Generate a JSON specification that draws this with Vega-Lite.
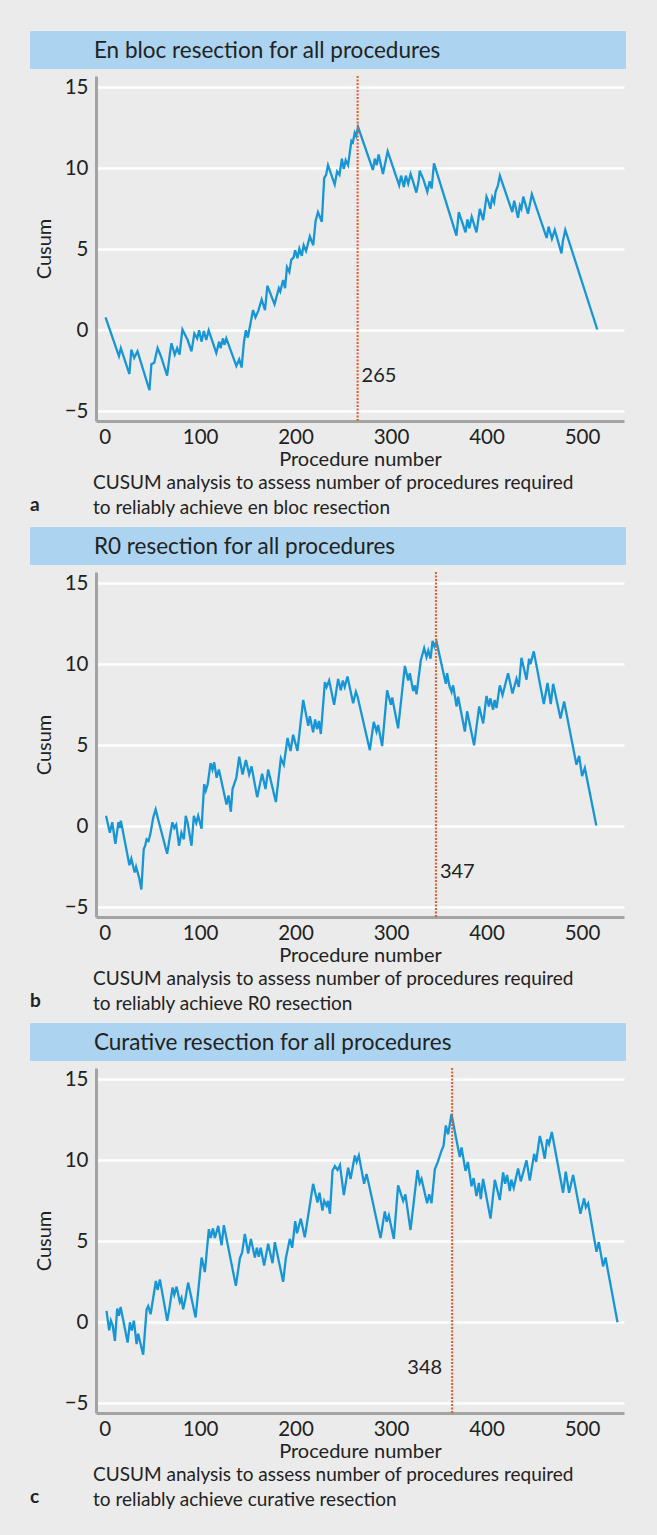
{
  "$schema": "https://vega.github.io/schema/vega-lite/v6.json",
  "background": "#ebebeb",
  "padding": {"left": 30, "top": 30, "right": 31, "bottom": 32},
  "spacing": 8,
  "config": {
    "font": "Lato",
    "view": {"stroke": null},
    "axis": {"domainColor": "#a3a3a3", "domainWidth": 3, "ticks": false, "labelFontSize": 20.5, "labelColor": "#222222", "titleFontSize": 20, "titleFontWeight": "normal", "titleColor": "#222222", "gridColor": "#ffffff", "gridWidth": 2.5, "gridOpacity": 1, "labelFlush": false, "labelOverlap": false},
    "title": {"fontWeight": "normal", "color": "#222222", "fontSize": 19}
  },
  "datasets": {
    "a": [
      {"n":1,"cusum":0.8},{"n":15,"cusum":-1.6},{"n":17,"cusum":-1.1},{"n":26,"cusum":-2.7},{"n":28,"cusum":-1.2},{"n":31,"cusum":-1.7},{"n":34.5,"cusum":-1.3},{"n":47,"cusum":-3.7},{"n":49,"cusum":-2.1},{"n":52,"cusum":-2.0},{"n":55.5,"cusum":-1.1},{"n":59,"cusum":-1.6},{"n":65.5,"cusum":-2.8},{"n":68.5,"cusum":-1.4},{"n":70,"cusum":-0.8},{"n":73.5,"cusum":-1.5},{"n":76,"cusum":-1.1},{"n":78.5,"cusum":-1.5},{"n":81.5,"cusum":0.05},{"n":87,"cusum":-0.6},{"n":91,"cusum":-1.3},{"n":94,"cusum":-0.2},{"n":97,"cusum":-0.5},{"n":99,"cusum":0},{"n":101.5,"cusum":-0.7},{"n":104,"cusum":-0.05},{"n":106.5,"cusum":-0.6},{"n":109,"cusum":0},{"n":117,"cusum":-1.4},{"n":120,"cusum":-0.7},{"n":121.5,"cusum":-1.1},{"n":124,"cusum":-0.5},{"n":125.5,"cusum":-0.9},{"n":127.5,"cusum":-0.5},{"n":138,"cusum":-2.2},{"n":141,"cusum":-1.8},{"n":143.5,"cusum":-2.3},{"n":146,"cusum":-0.7},{"n":148,"cusum":0},{"n":150,"cusum":-0.45},{"n":155.5,"cusum":1.25},{"n":158,"cusum":0.8},{"n":161,"cusum":1.2},{"n":164.5,"cusum":1.9},{"n":168,"cusum":1.25},{"n":170.5,"cusum":2.75},{"n":178,"cusum":1.6},{"n":182.5,"cusum":2.6},{"n":184,"cusum":2.4},{"n":187,"cusum":3.1},{"n":189,"cusum":2.6},{"n":191,"cusum":3.9},{"n":193.5,"cusum":3.6},{"n":195.5,"cusum":4.35},{"n":198,"cusum":4.5},{"n":199.5,"cusum":4.95},{"n":202,"cusum":4.45},{"n":204,"cusum":5.05},{"n":206.5,"cusum":4.6},{"n":208.5,"cusum":5.25},{"n":211,"cusum":4.9},{"n":215,"cusum":5.8},{"n":218.5,"cusum":5.25},{"n":221,"cusum":6.75},{"n":223.5,"cusum":7.3},{"n":227.5,"cusum":6.7},{"n":230,"cusum":9.4},{"n":232,"cusum":9.6},{"n":234,"cusum":10.2},{"n":241,"cusum":9.0},{"n":243.5,"cusum":9.8},{"n":246,"cusum":9.6},{"n":248.5,"cusum":10.6},{"n":250.5,"cusum":9.95},{"n":252.5,"cusum":10.5},{"n":255,"cusum":10.2},{"n":258.5,"cusum":11.7},{"n":260,"cusum":11.6},{"n":262,"cusum":12.2},{"n":263.5,"cusum":12.0},{"n":265.5,"cusum":12.55},{"n":281,"cusum":9.9},{"n":283,"cusum":10.6},{"n":285,"cusum":10.2},{"n":287,"cusum":10.85},{"n":291.5,"cusum":9.65},{"n":296.5,"cusum":11.05},{"n":308.5,"cusum":8.95},{"n":310.5,"cusum":9.55},{"n":313.5,"cusum":8.85},{"n":315.5,"cusum":9.55},{"n":318,"cusum":9.05},{"n":320.5,"cusum":9.65},{"n":323,"cusum":9.2},{"n":326.5,"cusum":8.5},{"n":329,"cusum":9.25},{"n":330,"cusum":9.85},{"n":334,"cusum":9.3},{"n":338,"cusum":8.55},{"n":340.5,"cusum":9.2},{"n":342.5,"cusum":8.75},{"n":345,"cusum":10.3},{"n":368.5,"cusum":5.85},{"n":371,"cusum":7.3},{"n":378,"cusum":6.05},{"n":380,"cusum":6.85},{"n":382,"cusum":6.3},{"n":384.5,"cusum":7.0},{"n":389.5,"cusum":6.05},{"n":393,"cusum":7.5},{"n":396.5,"cusum":6.8},{"n":400,"cusum":8.25},{"n":402,"cusum":7.95},{"n":404,"cusum":7.5},{"n":406,"cusum":8.2},{"n":408,"cusum":7.9},{"n":409.5,"cusum":8.55},{"n":412,"cusum":8.95},{"n":414,"cusum":9.55},{"n":427,"cusum":7.3},{"n":429,"cusum":8.0},{"n":433,"cusum":6.95},{"n":435,"cusum":7.7},{"n":436.5,"cusum":7.5},{"n":438.5,"cusum":8.25},{"n":443.5,"cusum":7.2},{"n":447.5,"cusum":8.4},{"n":463,"cusum":5.7},{"n":465,"cusum":6.4},{"n":468.5,"cusum":5.65},{"n":471.5,"cusum":6.2},{"n":478.5,"cusum":4.75},{"n":480,"cusum":5.5},{"n":482.5,"cusum":6.2},{"n":516,"cusum":0.05}
    ],
    "b": [
      {"n":1.5,"cusum":0.65},{"n":5.5,"cusum":-0.4},{"n":8,"cusum":0.25},{"n":11.3,"cusum":-1.08},{"n":14.5,"cusum":0.25},{"n":16,"cusum":-0.1},{"n":17,"cusum":0.35},{"n":26,"cusum":-2.4},{"n":28,"cusum":-2.0},{"n":31.5,"cusum":-2.85},{"n":33,"cusum":-2.5},{"n":36.5,"cusum":-3.25},{"n":38.5,"cusum":-3.9},{"n":41,"cusum":-1.4},{"n":42.5,"cusum":-1.2},{"n":44,"cusum":-0.8},{"n":46,"cusum":-0.9},{"n":48,"cusum":-0.45},{"n":51,"cusum":0.55},{"n":53.5,"cusum":1.05},{"n":56,"cusum":0.45},{"n":65.5,"cusum":-1.7},{"n":68.5,"cusum":-0.6},{"n":71,"cusum":0.25},{"n":73,"cusum":-0.1},{"n":75,"cusum":0.1},{"n":78,"cusum":-1.2},{"n":80.5,"cusum":-0.4},{"n":83,"cusum":-0.8},{"n":85,"cusum":0.65},{"n":87,"cusum":0.2},{"n":91,"cusum":-1.2},{"n":93.5,"cusum":0.65},{"n":96,"cusum":0.2},{"n":98,"cusum":0.65},{"n":101.5,"cusum":-0.15},{"n":104.3,"cusum":2.6},{"n":106,"cusum":2.2},{"n":108,"cusum":2.6},{"n":111,"cusum":3.9},{"n":113,"cusum":3.5},{"n":114.8,"cusum":3.95},{"n":117.3,"cusum":3.0},{"n":119.7,"cusum":3.5},{"n":127.7,"cusum":1.35},{"n":129.8,"cusum":1.9},{"n":132.2,"cusum":0.9},{"n":134,"cusum":2.3},{"n":138,"cusum":3.0},{"n":141,"cusum":4.3},{"n":144.5,"cusum":3.2},{"n":148,"cusum":4.1},{"n":151.4,"cusum":3.2},{"n":153.9,"cusum":3.7},{"n":159.8,"cusum":1.8},{"n":165,"cusum":3.25},{"n":168.5,"cusum":2.3},{"n":171.3,"cusum":3.5},{"n":179.4,"cusum":1.5},{"n":184.6,"cusum":4.2},{"n":187.7,"cusum":3.8},{"n":191.6,"cusum":5.45},{"n":194.7,"cusum":4.65},{"n":197.5,"cusum":5.65},{"n":202,"cusum":4.65},{"n":208,"cusum":7.8},{"n":213.3,"cusum":6.2},{"n":215,"cusum":6.8},{"n":218.4,"cusum":5.8},{"n":220.5,"cusum":6.6},{"n":222.5,"cusum":6.0},{"n":224.5,"cusum":6.5},{"n":226.5,"cusum":5.7},{"n":230.7,"cusum":8.9},{"n":232.5,"cusum":8.6},{"n":235.2,"cusum":9.0},{"n":240.4,"cusum":7.5},{"n":244.6,"cusum":9.1},{"n":247.4,"cusum":8.4},{"n":249.5,"cusum":9.0},{"n":251.5,"cusum":8.6},{"n":254.4,"cusum":9.25},{"n":260.3,"cusum":7.6},{"n":263.2,"cusum":8.3},{"n":265,"cusum":8.0},{"n":277.8,"cusum":4.7},{"n":281.9,"cusum":6.45},{"n":284.8,"cusum":5.85},{"n":286.5,"cusum":6.25},{"n":290.7,"cusum":4.95},{"n":295.9,"cusum":8.4},{"n":299.8,"cusum":7.5},{"n":301.2,"cusum":7.95},{"n":307.4,"cusum":6.05},{"n":314.5,"cusum":9.9},{"n":318,"cusum":9.0},{"n":319.7,"cusum":9.45},{"n":323.2,"cusum":8.35},{"n":325,"cusum":8.7},{"n":326.7,"cusum":8.15},{"n":331.2,"cusum":10.25},{"n":334.7,"cusum":11.0},{"n":337.2,"cusum":10.45},{"n":339,"cusum":10.85},{"n":341.4,"cusum":10.35},{"n":343.5,"cusum":11.45},{"n":345.5,"cusum":11.1},{"n":347.6,"cusum":11.4},{"n":357.4,"cusum":8.8},{"n":358.7,"cusum":9.45},{"n":361,"cusum":8.7},{"n":363.4,"cusum":8.3},{"n":365,"cusum":8.7},{"n":368.6,"cusum":7.4},{"n":370.3,"cusum":8.0},{"n":377.3,"cusum":5.85},{"n":379.7,"cusum":7.1},{"n":387,"cusum":5.0},{"n":392.3,"cusum":7.4},{"n":396.5,"cusum":6.35},{"n":400,"cusum":8.05},{"n":402.5,"cusum":7.4},{"n":404,"cusum":7.9},{"n":406.9,"cusum":7.2},{"n":408.5,"cusum":7.8},{"n":410.5,"cusum":7.3},{"n":413.9,"cusum":8.7},{"n":416.8,"cusum":8.1},{"n":422.6,"cusum":9.45},{"n":427.2,"cusum":8.2},{"n":431.4,"cusum":9.1},{"n":433.8,"cusum":8.6},{"n":436.6,"cusum":10.4},{"n":441.9,"cusum":9.05},{"n":444.6,"cusum":10.35},{"n":446,"cusum":10.0},{"n":449.5,"cusum":10.8},{"n":460,"cusum":7.55},{"n":463.9,"cusum":8.85},{"n":467.3,"cusum":7.55},{"n":469.8,"cusum":8.8},{"n":477.5,"cusum":6.65},{"n":481.3,"cusum":7.7},{"n":494.2,"cusum":3.8},{"n":497,"cusum":4.35},{"n":500.1,"cusum":3.1},{"n":503,"cusum":3.6},{"n":515,"cusum":0.05}
    ],
    "c": [
      {"n":2,"cusum":0.7},{"n":4.8,"cusum":-0.5},{"n":6.6,"cusum":0.1},{"n":8.5,"cusum":-0.2},{"n":10.8,"cusum":-1.15},{"n":13.2,"cusum":0.85},{"n":15,"cusum":0.4},{"n":16.8,"cusum":0.95},{"n":24.1,"cusum":-1.25},{"n":26.5,"cusum":0},{"n":28.5,"cusum":-0.5},{"n":30.7,"cusum":0.1},{"n":33.5,"cusum":-1.35},{"n":35.2,"cusum":-0.7},{"n":37.5,"cusum":-1.3},{"n":40.4,"cusum":-2.0},{"n":44,"cusum":0.8},{"n":45.7,"cusum":1.0},{"n":48.2,"cusum":0.5},{"n":53.7,"cusum":2.55},{"n":55.5,"cusum":2.0},{"n":57.9,"cusum":2.65},{"n":65.6,"cusum":0.1},{"n":67.7,"cusum":0.8},{"n":71.2,"cusum":2.15},{"n":73,"cusum":1.7},{"n":75.4,"cusum":2.2},{"n":78.8,"cusum":1.25},{"n":80.5,"cusum":1.5},{"n":82.3,"cusum":0.8},{"n":84.5,"cusum":1.4},{"n":87.5,"cusum":2.45},{"n":95.3,"cusum":0.3},{"n":101.6,"cusum":4.0},{"n":105,"cusum":3.1},{"n":109.2,"cusum":5.75},{"n":111,"cusum":5.2},{"n":113.5,"cusum":5.8},{"n":115.5,"cusum":5.2},{"n":119,"cusum":5.95},{"n":122.5,"cusum":4.75},{"n":124.9,"cusum":6.0},{"n":137.5,"cusum":2.25},{"n":141.7,"cusum":3.95},{"n":144,"cusum":4.3},{"n":146.9,"cusum":5.45},{"n":150.4,"cusum":4.25},{"n":153.2,"cusum":5.15},{"n":157.4,"cusum":4.0},{"n":159.5,"cusum":4.6},{"n":161.5,"cusum":4.05},{"n":163.5,"cusum":4.6},{"n":167.1,"cusum":3.5},{"n":171.3,"cusum":4.85},{"n":175.9,"cusum":3.65},{"n":178.3,"cusum":4.95},{"n":187,"cusum":2.5},{"n":189.8,"cusum":3.95},{"n":194,"cusum":5.15},{"n":196.5,"cusum":4.6},{"n":199.6,"cusum":6.25},{"n":201.5,"cusum":5.5},{"n":205.5,"cusum":6.4},{"n":209.7,"cusum":5.25},{"n":218.4,"cusum":8.55},{"n":223,"cusum":7.4},{"n":225,"cusum":8.0},{"n":228.2,"cusum":6.9},{"n":230,"cusum":7.5},{"n":232.5,"cusum":7.2},{"n":234,"cusum":7.5},{"n":236,"cusum":6.7},{"n":238.7,"cusum":9.35},{"n":241.2,"cusum":9.65},{"n":244,"cusum":9.4},{"n":246.5,"cusum":9.7},{"n":250.6,"cusum":7.85},{"n":255.1,"cusum":9.55},{"n":257.6,"cusum":8.85},{"n":262.1,"cusum":10.3},{"n":264,"cusum":9.9},{"n":266.3,"cusum":10.3},{"n":271.8,"cusum":8.55},{"n":274.3,"cusum":9.15},{"n":276.5,"cusum":8.6},{"n":289,"cusum":5.2},{"n":293.5,"cusum":6.85},{"n":295.5,"cusum":6.2},{"n":297.7,"cusum":6.6},{"n":302.9,"cusum":5.15},{"n":307.4,"cusum":8.45},{"n":312.7,"cusum":7.5},{"n":315,"cusum":7.9},{"n":320.4,"cusum":5.7},{"n":327.7,"cusum":9.4},{"n":330,"cusum":8.6},{"n":331.9,"cusum":8.85},{"n":337.8,"cusum":7.35},{"n":340,"cusum":7.9},{"n":342.4,"cusum":7.35},{"n":345.9,"cusum":9.45},{"n":349,"cusum":9.9},{"n":352.9,"cusum":10.6},{"n":355,"cusum":10.9},{"n":357.4,"cusum":12.15},{"n":359.8,"cusum":11.6},{"n":363.3,"cusum":12.85},{"n":372,"cusum":10.2},{"n":373.8,"cusum":10.8},{"n":378,"cusum":9.35},{"n":380.5,"cusum":9.9},{"n":384.3,"cusum":8.4},{"n":386.5,"cusum":8.9},{"n":389.5,"cusum":7.8},{"n":392,"cusum":8.6},{"n":394,"cusum":7.6},{"n":396.4,"cusum":8.85},{"n":404.2,"cusum":6.4},{"n":408.7,"cusum":8.8},{"n":413.9,"cusum":7.55},{"n":417.4,"cusum":9.25},{"n":419.5,"cusum":8.55},{"n":421.5,"cusum":9.1},{"n":424.4,"cusum":8.1},{"n":426,"cusum":8.8},{"n":428.5,"cusum":8.3},{"n":433.1,"cusum":9.5},{"n":435.9,"cusum":8.7},{"n":441.9,"cusum":10.0},{"n":445.3,"cusum":8.75},{"n":449.9,"cusum":10.4},{"n":452,"cusum":9.9},{"n":455.8,"cusum":11.5},{"n":458,"cusum":11.0},{"n":461,"cusum":10.1},{"n":463.5,"cusum":11.3},{"n":465.5,"cusum":11.0},{"n":468.4,"cusum":11.75},{"n":480.2,"cusum":8.0},{"n":483,"cusum":9.3},{"n":486.5,"cusum":8.0},{"n":490.7,"cusum":9.1},{"n":498.4,"cusum":6.7},{"n":502.2,"cusum":7.65},{"n":504,"cusum":7.1},{"n":506.4,"cusum":7.35},{"n":515.2,"cusum":4.35},{"n":517.6,"cusum":4.95},{"n":522.1,"cusum":3.45},{"n":524.6,"cusum":4.0},{"n":537.2,"cusum":0}
    ]
  },
  "vconcat": [
    {
      "title": {"text": "a", "orient": "bottom", "anchor": "start", "frame": "bounds", "offset": -22, "fontWeight": "bold", "fontSize": 19},
      "vconcat": [
        {
          "width": 528, "height": 345,
          "title": {"text": ["CUSUM analysis to assess number of procedures required", "to reliably achieve en bloc resection"], "orient": "bottom", "anchor": "start", "frame": "group", "dx": -3, "offset": 5, "lineHeight": 25},
          "layer": [
            {
              "data": {"values": [{"head": "En bloc resection for all procedures"}]},
              "layer": [
                {"mark": {"type": "rect", "color": "#acd4f0"}, "encoding": {"x": {"datum": -78.1, "type": "quantitative"}, "x2": {"datum": 546.1}, "y": {"datum": 18.48, "type": "quantitative"}, "y2": {"datum": 16.13}}},
                {"mark": {"type": "text", "align": "left", "baseline": "middle", "fontSize": 22.5, "color": "#222222"}, "encoding": {"x": {"datum": -11.2, "type": "quantitative"}, "y": {"datum": 17.27, "type": "quantitative"}, "text": {"field": "head"}}}
              ]
            },
            {
              "data": {"name": "a"},
              "mark": {"type": "line", "color": "#1796d7", "strokeWidth": 2.3},
              "encoding": {
                "x": {"field": "n", "type": "quantitative", "scale": {"domain": [-9, 544], "nice": false, "zero": false}, "axis": {"values": [0, 100, 200, 300, 400, 500], "grid": false, "title": "Procedure number", "labelPadding": 6, "titlePadding": 1.5}},
                "y": {"field": "cusum", "type": "quantitative", "scale": {"domain": [-5.6, 15.7], "nice": false, "zero": false}, "axis": {"values": [-5, 0, 5, 10, 15], "grid": true, "title": "Cusum", "labelPadding": 8, "titlePadding": 10}}
              }
            },
            {
              "data": {"values": [{"n": 265, "label": "265"}]},
              "layer": [
                {"mark": {"type": "rule", "color": "#e85a28", "strokeWidth": 2, "strokeDash": [2, 1.5]}, "encoding": {"x": {"field": "n", "type": "quantitative"}}},
                {"mark": {"type": "text", "align": "left", "dx": 4, "baseline": "middle", "fontSize": 20, "color": "#222222"}, "encoding": {"x": {"field": "n", "type": "quantitative"}, "y": {"datum": -2.8, "type": "quantitative"}, "text": {"field": "label"}}}
              ]
            }
          ]
        }
      ]
    },
    {
      "title": {"text": "b", "orient": "bottom", "anchor": "start", "frame": "bounds", "offset": -22, "fontWeight": "bold", "fontSize": 19},
      "vconcat": [
        {
          "width": 528, "height": 345,
          "title": {"text": ["CUSUM analysis to assess number of procedures required", "to reliably achieve R0 resection"], "orient": "bottom", "anchor": "start", "frame": "group", "dx": -3, "offset": 5, "lineHeight": 25},
          "layer": [
            {
              "data": {"values": [{"head": "R0 resection for all procedures"}]},
              "layer": [
                {"mark": {"type": "rect", "color": "#acd4f0"}, "encoding": {"x": {"datum": -78.1, "type": "quantitative"}, "x2": {"datum": 546.1}, "y": {"datum": 18.48, "type": "quantitative"}, "y2": {"datum": 16.13}}},
                {"mark": {"type": "text", "align": "left", "baseline": "middle", "fontSize": 22.5, "color": "#222222"}, "encoding": {"x": {"datum": -11.2, "type": "quantitative"}, "y": {"datum": 17.27, "type": "quantitative"}, "text": {"field": "head"}}}
              ]
            },
            {
              "data": {"name": "b"},
              "mark": {"type": "line", "color": "#1796d7", "strokeWidth": 2.3},
              "encoding": {
                "x": {"field": "n", "type": "quantitative", "scale": {"domain": [-9, 544], "nice": false, "zero": false}, "axis": {"values": [0, 100, 200, 300, 400, 500], "grid": false, "title": "Procedure number", "labelPadding": 6, "titlePadding": 1.5}},
                "y": {"field": "cusum", "type": "quantitative", "scale": {"domain": [-5.6, 15.7], "nice": false, "zero": false}, "axis": {"values": [-5, 0, 5, 10, 15], "grid": true, "title": "Cusum", "labelPadding": 8, "titlePadding": 10}}
              }
            },
            {
              "data": {"values": [{"n": 347, "label": "347"}]},
              "layer": [
                {"mark": {"type": "rule", "color": "#e85a28", "strokeWidth": 2, "strokeDash": [2, 1.5]}, "encoding": {"x": {"field": "n", "type": "quantitative"}}},
                {"mark": {"type": "text", "align": "left", "dx": 4, "baseline": "middle", "fontSize": 20, "color": "#222222"}, "encoding": {"x": {"field": "n", "type": "quantitative"}, "y": {"datum": -2.8, "type": "quantitative"}, "text": {"field": "label"}}}
              ]
            }
          ]
        }
      ]
    },
    {
      "title": {"text": "c", "orient": "bottom", "anchor": "start", "frame": "bounds", "offset": -22, "fontWeight": "bold", "fontSize": 19},
      "vconcat": [
        {
          "width": 528, "height": 345,
          "title": {"text": ["CUSUM analysis to assess number of procedures required", "to reliably achieve curative resection"], "orient": "bottom", "anchor": "start", "frame": "group", "dx": -3, "offset": 5, "lineHeight": 25},
          "layer": [
            {
              "data": {"values": [{"head": "Curative resection for all procedures"}]},
              "layer": [
                {"mark": {"type": "rect", "color": "#acd4f0"}, "encoding": {"x": {"datum": -78.1, "type": "quantitative"}, "x2": {"datum": 546.1}, "y": {"datum": 18.48, "type": "quantitative"}, "y2": {"datum": 16.13}}},
                {"mark": {"type": "text", "align": "left", "baseline": "middle", "fontSize": 22.5, "color": "#222222"}, "encoding": {"x": {"datum": -11.2, "type": "quantitative"}, "y": {"datum": 17.27, "type": "quantitative"}, "text": {"field": "head"}}}
              ]
            },
            {
              "data": {"name": "c"},
              "mark": {"type": "line", "color": "#1796d7", "strokeWidth": 2.3},
              "encoding": {
                "x": {"field": "n", "type": "quantitative", "scale": {"domain": [-9, 544], "nice": false, "zero": false}, "axis": {"values": [0, 100, 200, 300, 400, 500], "grid": false, "title": "Procedure number", "labelPadding": 6, "titlePadding": 1.5}},
                "y": {"field": "cusum", "type": "quantitative", "scale": {"domain": [-5.6, 15.7], "nice": false, "zero": false}, "axis": {"values": [-5, 0, 5, 10, 15], "grid": true, "title": "Cusum", "labelPadding": 8, "titlePadding": 10}}
              }
            },
            {
              "data": {"values": [{"n": 364, "label": "348"}]},
              "layer": [
                {"mark": {"type": "rule", "color": "#e85a28", "strokeWidth": 2, "strokeDash": [2, 1.5]}, "encoding": {"x": {"field": "n", "type": "quantitative"}}},
                {"mark": {"type": "text", "align": "right", "dx": -10, "baseline": "middle", "fontSize": 20, "color": "#222222"}, "encoding": {"x": {"field": "n", "type": "quantitative"}, "y": {"datum": -2.8, "type": "quantitative"}, "text": {"field": "label"}}}
              ]
            }
          ]
        }
      ]
    }
  ]
}
